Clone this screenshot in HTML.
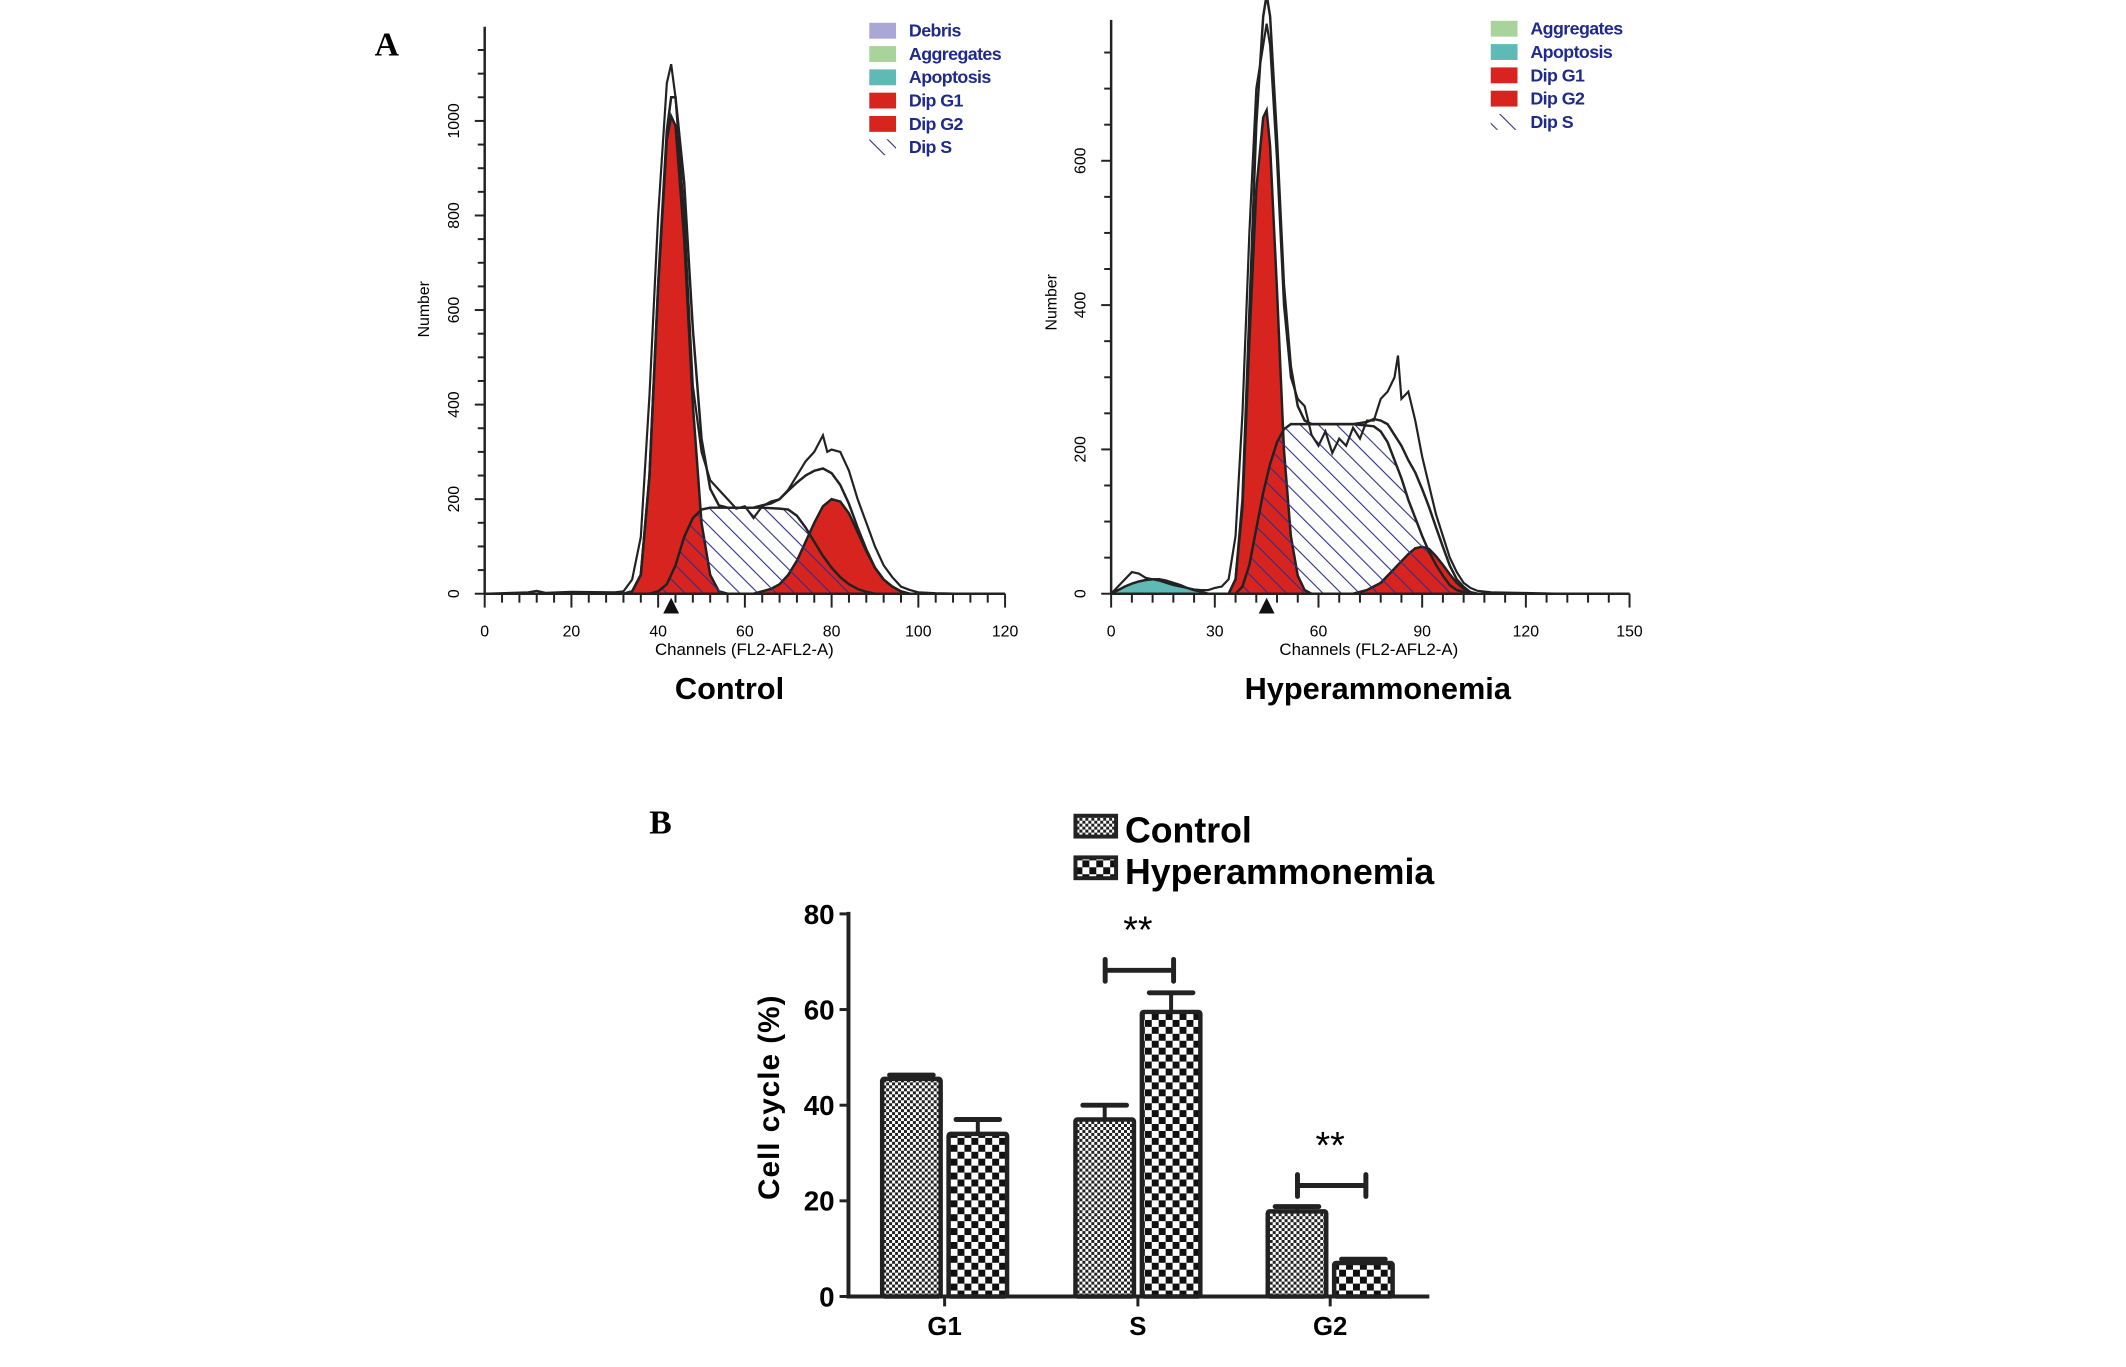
<!DOCTYPE html>
<html><head><meta charset="utf-8"><style>
body{margin:0;background:#fff;overflow:hidden;}
svg text{font-family:"Liberation Sans",Arial,sans-serif;}
</style></head><body>
<svg id="fig" width="2126" height="1362" viewBox="0 0 2126 1362" xmlns="http://www.w3.org/2000/svg">
<defs>
<pattern id="hatch" patternUnits="userSpaceOnUse" width="13" height="13" patternTransform="rotate(-45)">
<line x1="0" y1="0" x2="0" y2="13" stroke="#2e2e8a" stroke-width="2.2"/></pattern>
<pattern id="fine" patternUnits="userSpaceOnUse" width="6" height="6">
<rect width="6" height="6" fill="#fff"/><rect width="3" height="3" fill="#222"/><rect x="3" y="3" width="3" height="3" fill="#222"/></pattern>
<pattern id="coarse" patternUnits="userSpaceOnUse" width="14" height="14">
<rect width="14" height="14" fill="#fff"/><rect width="7" height="7" fill="#111"/><rect x="7" y="7" width="7" height="7" fill="#111"/></pattern>
</defs>
<g transform="scale(0.9912)">
<text x="378" y="56" font-weight="bold" font-size="34" style="font-family:'Liberation Serif',serif">A</text>
<text x="655" y="841" font-weight="bold" font-size="34" style="font-family:'Liberation Serif',serif">B</text>
<g id="ctrl"></g>
<g id="hyp"></g>
<g id="bar"></g>
</g>
</svg>
<script>
// ---- Control histogram data ----
const cG1x=[32,34,36,38,40,42,43,44,46,48,50,52,54,56];
const cG1y=[0,5,40,250,650,960,1010,990,750,400,150,40,5,0];
const cSx=[38,40,42,44,46,48,50,52,56,60,64,68,70,72,74,76,78,80,82,84,86,88,90];
const cSy=[0,5,20,60,120,160,178,182,182,182,182,180,178,165,140,110,80,55,35,20,10,4,0];
const cG2x=[62,64,66,68,70,72,74,76,78,80,82,84,86,88,90,92,94,96,98];
const cG2y=[0,5,10,20,40,70,110,150,185,200,195,170,130,90,55,30,15,5,0];
const cRawx=[0,10,12,14,20,30,32,34,36,38,40,42,43,44,46,48,50,52,54,56,58,60,62,64,66,68,70,72,74,76,78,79,80,82,84,86,88,90,92,94,96,98,100,104,110];
const cRawy=[0,3,6,2,4,3,5,30,120,420,800,1080,1120,1050,800,440,300,240,220,200,180,185,160,185,195,200,220,250,280,300,335,300,305,300,260,200,150,100,60,35,15,8,3,1,0];
// ---- Hyperammonemia histogram data ----
const hApx=[0,2,4,6,8,10,12,14,16,18,20,22,24,26,28];
const hApy=[0,5,10,14,17,19,20,20,18,15,12,8,5,3,0];
const hG1x=[34,36,38,40,42,44,45,46,48,50,52,54,56,58];
const hG1y=[0,20,120,350,560,660,670,620,420,200,80,25,5,0];
const hSx=[36,38,40,42,44,46,48,50,52,60,70,76,78,80,82,84,86,88,90,92,94,96,98,100,104];
const hSy=[0,10,40,90,140,180,210,228,235,235,235,232,225,210,185,160,130,105,80,58,40,25,12,5,0];
const hG2x=[70,74,78,82,86,88,90,92,94,96,98,100,102,104,106];
const hG2y=[0,5,15,35,55,63,65,62,52,40,27,15,7,2,0];
const hRawx=[0,2,4,6,8,10,12,14,16,18,20,22,24,26,28,30,32,34,36,38,40,42,44,45,46,48,50,52,54,56,58,60,62,64,66,68,70,72,74,76,78,80,82,83,84,86,88,90,92,94,96,98,100,102,104,106,110,120,130];
const hRawy=[0,10,20,30,28,22,20,18,15,12,10,8,6,5,5,8,10,20,80,250,500,700,760,790,760,600,400,300,270,260,220,205,225,195,215,205,230,215,240,240,270,280,300,330,270,280,240,190,150,110,80,50,30,15,8,4,2,1,0];
// ---- Bar chart data ----
const categories=["G1","S","G2"];
const controlVals=[45.5,37,17.8];
const controlErr=[0.8,3,1];
const hyperVals=[34,59.5,7];
const hyperErr=[3,4,0.8];
const yTicks=[0,20,40,60,80];

const NS="http://www.w3.org/2000/svg";
function mk(p,t,a){const e=document.createElementNS(NS,t);for(const k in a)e.setAttribute(k,a[k]);p.appendChild(e);return e;}

function hist(g,o){
  const X=v=>o.x0+(v-o.xmin)/(o.xmax-o.xmin)*(o.x1-o.x0);
  const Y=v=>o.y0-v*o.py;
  const area=(xs,ys)=>{let d="M"+X(xs[0])+","+Y(0);xs.forEach((x,i)=>d+="L"+X(x)+","+Y(ys[i]));return d+"L"+X(xs[xs.length-1])+","+Y(0)+"Z";};
  const line=(xs,ys)=>xs.map((x,i)=>(i?"L":"M")+X(x)+","+Y(ys[i])).join("");
  const sumAt=x=>{let s=0;for(const [xs,ys] of o.comps){if(x<=xs[0]||x>=xs[xs.length-1])continue;for(let i=1;i<xs.length;i++)if(x<=xs[i]){s+=ys[i-1]+(ys[i]-ys[i-1])*(x-xs[i-1])/(xs[i]-xs[i-1]);break;}}return s;};
  let e;
  if(o.ap){e=mk(g,"path",{d:area(o.ap[0],o.ap[1]),fill:"#5fb9b5",stroke:"#333","stroke-width":1.5});}
  e=mk(g,"path",{d:area(o.S[0],o.S[1]),fill:"#fff"});
  e=mk(g,"path",{d:area(o.G1[0],o.G1[1]),fill:"#d8241f",stroke:"#222","stroke-width":2.5});
  e=mk(g,"path",{d:area(o.G2[0],o.G2[1]),fill:"#d8241f",stroke:"#222","stroke-width":2.5});
  e=mk(g,"path",{d:area(o.S[0],o.S[1]),fill:"url(#hatch)",stroke:"#222","stroke-width":2.5});
  const fx=[],fy=[];for(let x=o.xmin;x<=o.xmax;x+=0.5){fx.push(x);fy.push(sumAt(x));}
  e=mk(g,"path",{d:line(fx,fy),fill:"none",stroke:"#222","stroke-width":2.5});
  e=mk(g,"path",{d:line(o.raw[0],o.raw[1]),fill:"none",stroke:"#222","stroke-width":2.2});
  e=mk(g,"line",{x1:o.x0,y1:o.ytop,x2:o.x0,y2:o.y0,stroke:"#222","stroke-width":2.5});
  e=mk(g,"line",{x1:o.x0,y1:o.y0,x2:o.x1,y2:o.y0,stroke:"#222","stroke-width":2.5});
  for(let v=0;v*o.py<=o.y0-o.ytop;v+=50){const maj=v%200==0;mk(g,"line",{x1:o.x0-(maj?10:7),y1:Y(v),x2:o.x0,y2:Y(v),stroke:"#222","stroke-width":2});
    if(maj){e=mk(g,"text",{x:0,y:0,transform:`translate(${o.x0-26},${Y(v)}) rotate(-90)`,"text-anchor":"middle","font-size":16});e.textContent=v;}}
  for(let v=o.xmin;v<=o.xmax+0.01;v+=o.minor){const maj=Math.abs(v/o.major-Math.round(v/o.major))<0.01;mk(g,"line",{x1:X(v),y1:o.y0,x2:X(v),y2:o.y0+(maj?14:9),stroke:"#222","stroke-width":2});
    if(maj){e=mk(g,"text",{x:X(v),y:o.y0+43,"text-anchor":"middle","font-size":16});e.textContent=v;}}
  e=mk(g,"path",{d:`M${X(o.tri)-8},${o.y0+20}L${X(o.tri)+8},${o.y0+20}L${X(o.tri)},${o.y0+4}Z`,fill:"#111"});
  e=mk(g,"text",{x:o.cx,y:o.y0+62,"text-anchor":"middle","font-size":17});e.textContent="Channels (FL2-AFL2-A)";
  e=mk(g,"text",{x:0,y:0,transform:`translate(${o.numX},${o.numY}) rotate(-90)`,"text-anchor":"middle","font-size":16});e.textContent="Number";
  e=mk(g,"text",{x:o.tx,y:o.y0+106,"text-anchor":"middle","font-size":31,"font-weight":"bold"});e.textContent=o.title;
  o.legend.forEach((L,i)=>{const yy=o.ly+i*23.5;
    const r=mk(g,"rect",{x:o.lx,y:yy-8,width:27,height:16,fill:L[1]==="hatch"?"url(#hatch)":L[1]});
    const t=mk(g,"text",{x:o.lx+40,y:yy+6,"font-size":18,"font-weight":"bold",fill:"#1f2a8a","letter-spacing":"-0.6"});t.textContent=L[0];});
}
hist(document.getElementById("ctrl"),{x0:489,x1:1014,xmin:0,xmax:120,y0:599,ytop:27,py:0.477,major:20,minor:4,tri:43,
 G1:[cG1x,cG1y],S:[cSx,cSy],G2:[cG2x,cG2y],raw:[cRawx,cRawy],comps:[[cG1x,cG1y],[cSx,cSy],[cG2x,cG2y]],
 title:"Control",tx:736,cx:751,numX:433,numY:312,lx:877,ly:31,
 legend:[["Debris","#aaa6d6"],["Aggregates","#a8d39a"],["Apoptosis","#5fb9b5"],["Dip G1","#d8241f"],["Dip G2","#d8241f"],["Dip S","hatch"]]});
hist(document.getElementById("hyp"),{x0:1121,x1:1644,xmin:0,xmax:150,y0:599,ytop:20,py:0.728,major:30,minor:6,tri:45,
 ap:[hApx,hApy],G1:[hG1x,hG1y],S:[hSx,hSy],G2:[hG2x,hG2y],raw:[hRawx,hRawy],comps:[[hApx,hApy],[hG1x,hG1y],[hSx,hSy],[hG2x,hG2y]],
 title:"Hyperammonemia",tx:1390,cx:1381,numX:1066,numY:305,lx:1504,ly:29,
 legend:[["Aggregates","#a8d39a"],["Apoptosis","#5fb9b5"],["Dip G1","#d8241f"],["Dip G2","#d8241f"],["Dip S","hatch"]]});

// ---- bar chart ----
(function(){
  const g=document.getElementById("bar");
  const x0=856,x1=1442,y0=1308,py=4.825;
  const Y=v=>y0-v*py;
  const cx=[953,1148,1342];
  let e;
  categories.forEach((c,i)=>{
    [[controlVals,controlErr,-1,"fine","control"],[hyperVals,hyperErr,1,"coarse","hyper"]].forEach(([vals,err,s,pat,nm])=>{
      const bx=s<0?cx[i]-63:cx[i]+4, w=59, top=Y(vals[i]), et=Y(vals[i]+err[i]), mid=bx+w/2;
      e=mk(g,"line",{x1:mid,y1:top,x2:mid,y2:et,stroke:"#222","stroke-width":4});
      e=mk(g,"line",{x1:mid-22,y1:et,x2:mid+22,y2:et,stroke:"#222","stroke-width":5,"stroke-linecap":"round"});
      e=mk(g,"rect",{x:bx,y:top,width:w,height:y0-top,fill:`url(#${pat})`,stroke:"#222","stroke-width":4.5,rx:2});
    });
    e=mk(g,"line",{x1:cx[i],y1:y0,x2:cx[i],y2:y0+10,stroke:"#222","stroke-width":3});
    e=mk(g,"text",{x:cx[i],y:1347,"text-anchor":"middle","font-size":26,"font-weight":"bold"});e.textContent=c;
  });
  e=mk(g,"line",{x1:x0,y1:Y(80)-2,x2:x0,y2:y0,stroke:"#222","stroke-width":4});
  e=mk(g,"line",{x1:x0-2,y1:y0,x2:x1,y2:y0,stroke:"#222","stroke-width":4});
  yTicks.forEach(v=>{mk(g,"line",{x1:x0-9,y1:Y(v),x2:x0,y2:Y(v),stroke:"#222","stroke-width":3});
    e=mk(g,"text",{x:x0-14,y:Y(v)+10,"text-anchor":"end","font-size":28,"font-weight":"bold"});e.textContent=v;});
  e=mk(g,"text",{x:0,y:0,transform:"translate(786,1107) rotate(-90)","text-anchor":"middle","font-size":30,"font-weight":"bold","letter-spacing":"1"});e.textContent="Cell cycle  (%)";
  [[1,68.2],[2,23.2]].forEach(([i,v])=>{const a=cx[i]-33,b=cx[i]+36,y=Y(v);
    e=mk(g,"path",{d:`M${a},${y-11}V${y+11}M${a},${y}H${b}M${b},${y-11}V${y+11}`,stroke:"#222","stroke-width":5,fill:"none","stroke-linecap":"round"});
    e=mk(g,"text",{x:cx[i],y:y-28,"text-anchor":"middle","font-size":38});e.textContent="**";});
  [["Control","fine",823],["Hyperammonemia","coarse",865]].forEach(([t,p,yy])=>{
    e=mk(g,"rect",{x:1085,y:yy,width:41,height:21,fill:`url(#${p})`,stroke:"#222","stroke-width":4});
    e=mk(g,"text",{x:1135,y:yy+27,"font-size":36,"font-weight":"bold"});e.textContent=t;});
})();
</script>
</body></html>
